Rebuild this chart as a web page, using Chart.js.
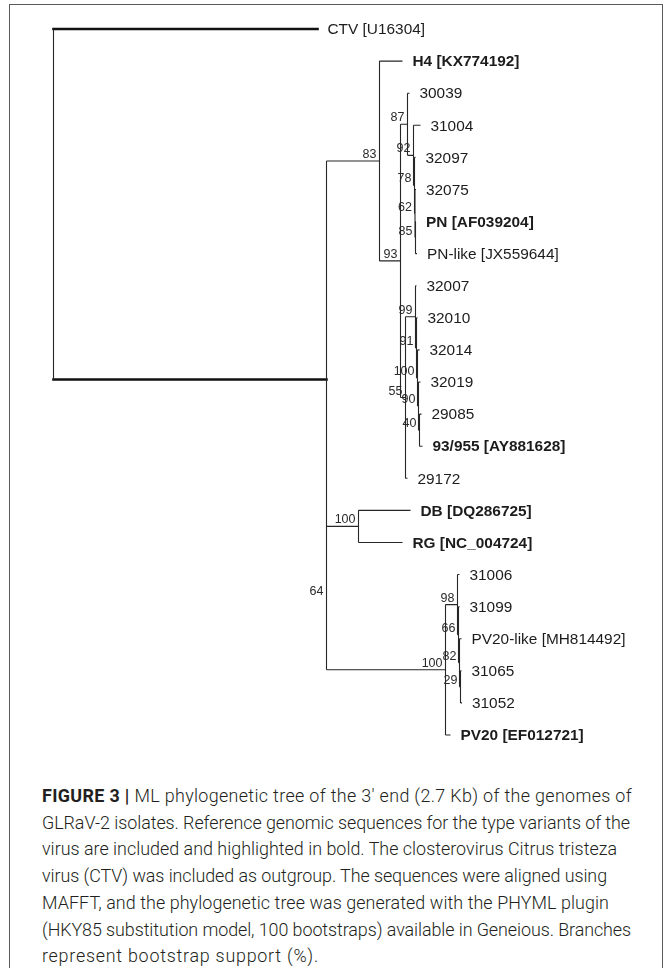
<!DOCTYPE html>
<html>
<head>
<meta charset="utf-8">
<script src="https://cdn.jsdelivr.net/npm/chart.js@4/dist/chart.umd.min.js"></script>
<style>
  html, body { margin: 0; padding: 0; background: #fff; overflow: hidden; width: 672px; height: 968px; }
  #frame { position: absolute; left: 9px; top: 4px; width: 654px; height: 1000px; border: 1.5px solid #5a5a5a; box-sizing: border-box; }
  #tree { position: absolute; left: 0; top: 0; }
  #caption { position: absolute; left: 42px; top: 783px; font-family: Roboto, "Liberation Sans", sans-serif; font-weight: 300;
             font-size: 17.9px; line-height: 26.7px; color: #231f20; white-space: nowrap; }
  #caption div { display: block; width: max-content; }
  #caption b { font-weight: 700; }
</style>
</head>
<body>
<div id="frame"></div>
<canvas id="tree" width="672" height="770"></canvas>
<div id="caption">
  <div data-w="590"><b>FIGURE 3 |</b> ML phylogenetic tree of the 3′ end (2.7 Kb) of the genomes of</div>
  <div data-w="588">GLRaV-2 isolates. Reference genomic sequences for the type variants of the</div>
  <div data-w="575">virus are included and highlighted in bold. The closterovirus Citrus tristeza</div>
  <div data-w="565">virus (CTV) was included as outgroup. The sequences were aligned using</div>
  <div data-w="567">MAFFT, and the phylogenetic tree was generated with the PHYML plugin</div>
  <div data-w="589">(HKY85 substitution model, 100 bootstraps) available in Geneious. Branches</div>
  <div data-w="277">represent bootstrap support (%).</div>
</div>
<script>
// ---- Tree data ----
// Tips, listed top to bottom
const tipLabels = [
  'CTV [U16304]', 'H4 [KX774192]', '30039', '31004', '32097', '32075',
  'PN [AF039204]', 'PN-like [JX559644]', '32007', '32010', '32014', '32019',
  '29085', '93/955 [AY881628]', '29172', 'DB [DQ286725]', 'RG [NC_004724]',
  '31006', '31099', 'PV20-like [MH814492]', '31065', '31052', 'PV20 [EF012721]'
];
const tipParents = [
  'root', 'n83', 'n87', 'n92', 'n78', 'n62',
  'n85', 'n85', 'n99', 'n91', 'n100a', 'n90',
  'n40', 'n40', 'n55', 'nDR', 'nDR',
  'n98', 'n66', 'n82', 'n29', 'n29', 'nPV'
];
const tipBranchLengths = [
  0.264, 0.023, 0.002, 0.007, 0.001, 0.001,
  0.0005, 0.0015, 0.001, 0.001, 0.002, 0.002,
  0.002, 0.003, 0.002, 0.052, 0.044,
  0.002, 0.001, 0.002, 0.001, 0.0015, 0.005
];
// Type-variant reference genomes (drawn in bold)
const referenceTips = [
  'H4 [KX774192]', 'PN [AF039204]', '93/955 [AY881628]',
  'DB [DQ286725]', 'RG [NC_004724]', 'PV20 [EF012721]'
];

// Internal nodes (each parent listed before its children)
const nodeIds = [
  'root', 'ingroup', 'n83', 'n93', 'n87', 'n92', 'n78', 'n62', 'n85',
  'n55', 'n99', 'n91', 'n100a', 'n90', 'n40',
  'n64', 'nDR', 'nPV', 'n98', 'n66', 'n82', 'n29'
];
const nodeParents = [
  null, 'root', 'ingroup', 'n83', 'n93', 'n87', 'n92', 'n78', 'n62',
  'n93', 'n55', 'n99', 'n91', 'n100a', 'n90',
  'ingroup', 'n64', 'n64', 'nPV', 'n98', 'n66', 'n82'
];
const nodeBranchLengths = [
  0, 0.273, 0.053, 0.021, 0.007, 0.006, 0.001, 0.0005, 0.0005,
  0.005, 0.010, 0.001, 0.001, 0.001, 0.001,
  0, 0.032, 0.119, 0.012, 0.001, 0.001, 0.001
];
// Bootstrap support (%)
const nodeSupport = [
  null, null, 83, 93, 87, 92, 78, 62, 85,
  55, 99, 91, 100, 90, 40,
  64, 100, 100, 98, 66, 82, 29
];

// ---- Rectangular layout ----
const nodes = {};
nodeIds.forEach((id, i) => {
  const parent = nodeParents[i];
  nodes[id] = {
    id, parent, support: nodeSupport[i], children: [],
    x: parent ? nodes[parent].x + nodeBranchLengths[i] : 0
  };
  if (parent) nodes[parent].children.push(nodes[id]);
});
const tips = tipLabels.map((label, i) => {
  const p = nodes[tipParents[i]];
  const t = { label, parent: tipParents[i], x: p.x + tipBranchLengths[i], y: i, tip: true };
  p.children.push(t);
  return t;
});
function placeY(n) {
  if (n.tip) return n.y;
  const ys = n.children.map(placeY);
  n.y = (Math.min(...ys) + Math.max(...ys)) / 2;
  return n.y;
}
placeY(nodes.root);

const GAP = { x: null, y: null };
const verticals = [];
const horizontals = [];
const rootBranches = [];
Object.values(nodes).forEach(n => {
  const ys = n.children.map(c => c.y);
  verticals.push({ x: n.x, y: Math.min(...ys) }, { x: n.x, y: Math.max(...ys) }, GAP);
});
[...Object.values(nodes), ...tips].forEach(n => {
  if (!n.parent) return;
  const target = n.parent === 'root' ? rootBranches : horizontals;
  target.push({ x: nodes[n.parent].x, y: n.y }, { x: n.x, y: n.y }, GAP);
});

const treeLabels = {
  id: 'treeLabels',
  afterDatasetsDraw(chart) {
    const { ctx, scales: { x, y } } = chart;
    ctx.save();
    ctx.fillStyle = '#1c1c1c';
    ctx.textAlign = 'left';
    ctx.textBaseline = 'middle';
    tips.forEach(t => {
      const bold = referenceTips.includes(t.label);
      ctx.font = (bold ? 'bold ' : '') + '15.4px "Liberation Sans", Arial, sans-serif';
      ctx.fillText(t.label, x.getPixelForValue(t.x) + 10, y.getPixelForValue(t.y) + 1);
    });
    ctx.fillStyle = '#2a2a2a';
    ctx.font = '12.5px "Liberation Sans", Arial, sans-serif';
    ctx.textAlign = 'right';
    ctx.textBaseline = 'alphabetic';
    Object.values(nodes).forEach(n => {
      if (n.support == null) return;
      ctx.fillText(String(n.support), x.getPixelForValue(n.x) - 3, y.getPixelForValue(n.y) - 3);
    });
    ctx.restore();
  }
};

const lineStyle = { showLine: true, pointRadius: 0, pointHoverRadius: 0, spanGaps: false, fill: false, tension: 0 };

new Chart(document.getElementById('tree'), {
  type: 'scatter',
  data: {
    datasets: [
      { ...lineStyle, data: verticals, borderColor: '#262626', borderWidth: 1.1 },
      { ...lineStyle, data: horizontals, borderColor: '#262626', borderWidth: 1.1 },
      { ...lineStyle, data: rootBranches, borderColor: '#111111', borderWidth: 2.6, borderCapStyle: 'square' }
    ]
  },
  options: {
    responsive: false,
    animation: false,
    devicePixelRatio: 1,
    layout: { padding: 0 },
    plugins: { legend: { display: false }, tooltip: { enabled: false } },
    events: [],
    scales: {
      x: { type: 'linear', display: false, bounds: 'data', min: -0.0535, max: 0.6185 },
      y: { type: 'linear', display: false, bounds: 'data', reverse: true, min: -0.904, max: 23.091 }
    }
  },
  plugins: [treeLabels]
});

// Justify each caption line to its set width with letter spacing
function fitCaption() {
  document.querySelectorAll('#caption div').forEach(line => {
    line.style.letterSpacing = '0px';
    const target = +line.dataset.w;
    const w = line.getBoundingClientRect().width;
    const n = line.textContent.length;
    line.style.letterSpacing = ((target - w) / n) + 'px';
  });
}
fitCaption();
if (document.fonts && document.fonts.ready) document.fonts.ready.then(fitCaption);
</script>
</body>
</html>
